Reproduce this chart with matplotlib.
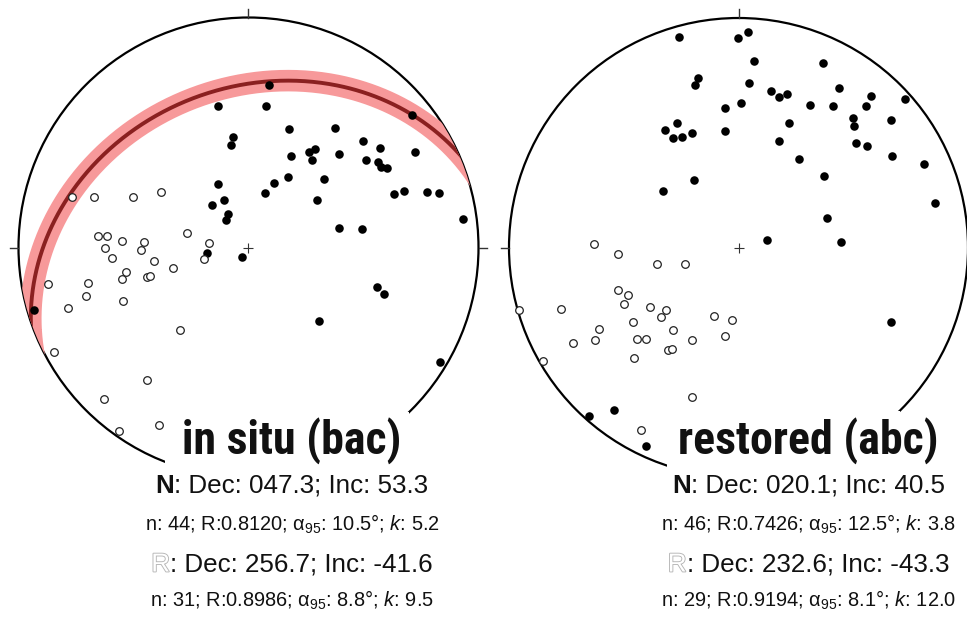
import numpy as np
import matplotlib
matplotlib.use("Agg")
import matplotlib.pyplot as plt
from matplotlib.patches import Circle, Rectangle
import matplotlib.patheffects as pe

# equal-area net coordinates (primitive radius = 1, x = east, y = north)
insitu_normal = [
    (0.090, 0.708), (-0.131, 0.617), (0.075, 0.615), (0.711, 0.576), (0.177, 0.514),
    (0.377, 0.521), (-0.066, 0.480), (-0.075, 0.444), (0.497, 0.462), (0.572, 0.431),
    (0.264, 0.417), (0.290, 0.430), (0.183, 0.399), (0.276, 0.380), (0.392, 0.405),
    (0.724, 0.415), (0.512, 0.380), (0.563, 0.370), (0.577, 0.351), (0.603, 0.344),
    (0.173, 0.307), (0.328, 0.297), (0.111, 0.282), (-0.133, 0.276), (0.073, 0.236),
    (0.634, 0.233), (0.675, 0.246), (0.777, 0.243), (0.830, 0.238), (-0.107, 0.207),
    (0.299, 0.207), (-0.160, 0.183), (-0.090, 0.144), (-0.098, 0.120), (0.931, 0.124),
    (0.393, 0.083), (0.493, 0.079), (-0.182, -0.025), (-0.028, -0.041), (0.560, -0.170),
    (0.588, -0.203), (-0.931, -0.272), (0.308, -0.318), (0.833, -0.498),
]
insitu_reversed = [
    (-0.769, 0.218), (-0.670, 0.218), (-0.503, 0.218), (-0.380, 0.243), (-0.656, 0.051),
    (-0.614, 0.049), (-0.550, 0.030), (-0.453, 0.024), (-0.266, 0.063), (-0.173, 0.021),
    (-0.624, -0.002), (-0.466, -0.010), (-0.592, -0.044), (-0.410, -0.060), (-0.195, -0.051),
    (-0.330, -0.090), (-0.531, -0.105), (-0.550, -0.136), (-0.441, -0.130), (-0.427, -0.125),
    (-0.873, -0.157), (-0.699, -0.156), (-0.708, -0.212), (-0.547, -0.233), (-0.786, -0.265),
    (-0.299, -0.360), (-0.846, -0.456), (-0.443, -0.577), (-0.628, -0.659), (-0.388, -0.772),
    (-0.562, -0.797),
]
restored_normal = [
    (-0.261, 0.919), (-0.002, 0.913), (0.043, 0.938), (0.066, 0.813), (0.369, 0.804),
    (-0.178, 0.740), (-0.191, 0.707), (0.047, 0.715), (0.437, 0.694), (0.143, 0.683),
    (0.175, 0.657), (0.210, 0.670), (0.577, 0.661), (0.724, 0.647), (0.012, 0.630),
    (-0.058, 0.609), (0.310, 0.621), (0.413, 0.618), (0.556, 0.615), (-0.267, 0.542),
    (-0.322, 0.513), (-0.287, 0.477), (-0.247, 0.483), (-0.203, 0.498), (-0.059, 0.508),
    (0.220, 0.542), (0.499, 0.563), (0.502, 0.529), (0.663, 0.554), (0.178, 0.463),
    (0.512, 0.455), (0.561, 0.442), (0.264, 0.386), (0.668, 0.397), (0.810, 0.365),
    (-0.195, 0.294), (-0.329, 0.247), (0.373, 0.310), (0.855, 0.195), (0.384, 0.127),
    (0.123, 0.031), (0.448, 0.023), (0.666, -0.326), (-0.541, -0.709), (-0.653, -0.733),
    (-0.402, -0.864),
]
restored_reversed = [
    (-0.631, 0.014), (-0.524, -0.027), (-0.354, -0.073), (-0.234, -0.072), (-0.525, -0.184),
    (-0.481, -0.207), (-0.498, -0.248), (-0.955, -0.272), (-0.775, -0.270), (-0.384, -0.261),
    (-0.316, -0.272), (-0.339, -0.302), (-0.108, -0.297), (-0.027, -0.316), (-0.609, -0.354),
    (-0.461, -0.326), (-0.284, -0.358), (-0.720, -0.416), (-0.627, -0.403), (-0.442, -0.399),
    (-0.403, -0.400), (-0.203, -0.402), (-0.059, -0.386), (-0.308, -0.447), (-0.288, -0.442),
    (-0.457, -0.480), (-0.851, -0.496), (-0.204, -0.651), (-0.425, -0.795),
]

# small circle shown on the in situ net: axis dec, inc and half-angle (deg)
circle_dec, circle_inc, circle_radius = 158.4, 57.1, 91.5

titles = ["in situ (bac)", "restored (abc)"]
normal_means = [": Dec: 047.3; Inc: 53.3", ": Dec: 020.1; Inc: 40.5"]
normal_stats = ["n: 44; R:0.8120; α$_{95}$: 10.5°; $k$: 5.2",
                "n: 46; R:0.7426; α$_{95}$: 12.5°; $k$: 3.8"]
reversed_means = [": Dec: 256.7; Inc: -41.6", ": Dec: 232.6; Inc: -43.3"]
reversed_stats = ["n: 31; R:0.8986; α$_{95}$: 8.8°; $k$: 9.5",
                  "n: 29; R:0.9194; α$_{95}$: 8.1°; $k$: 12.0"]

W, H = 967, 617

plt.rcParams["font.family"] = ["Liberation Sans", "DejaVu Sans"]
plt.rcParams["mathtext.fontset"] = "custom"
plt.rcParams["mathtext.rm"] = "Liberation Sans"
plt.rcParams["mathtext.it"] = "Liberation Sans:italic"
plt.rcParams["mathtext.bf"] = "Liberation Sans:bold"

fig = plt.figure(figsize=(W / 100, H / 100), dpi=100)


def project(v):
    e, n, d = v
    theta = np.arccos(np.clip(d, -1, 1))
    r = np.sqrt(2) * np.sin(theta / 2)
    h = np.hypot(e, n)
    return r * e / h, r * n / h


def small_circle(dec, inc, psi, num=721):
    dec, inc, psi = np.radians([dec, inc, psi])
    a = np.array([np.cos(inc) * np.sin(dec), np.cos(inc) * np.cos(dec), np.sin(inc)])
    u = np.cross(a, [0, 0, 1.0])
    u /= np.linalg.norm(u)
    w = np.cross(a, u)
    t = np.linspace(0, 2 * np.pi, num)
    v = np.cos(psi) * a[:, None] + np.sin(psi) * (np.outer(u, np.cos(t)) + np.outer(w, np.sin(t)))
    return project(v)


def net(cx, cy, R):
    s = 1.1
    ax = fig.add_axes([(cx - s * R) / W, (H - cy - s * R) / H, 2 * s * R / W, 2 * s * R / H])
    ax.set_xlim(-s, s)
    ax.set_ylim(-s, s)
    ax.axis("off")
    ax.add_patch(Circle((0, 0), 1, fill=False, lw=1.6, ec="black", zorder=2))
    tl = 1 + 8.5 / R
    for dx, dy in [(0, 1), (-1, 0), (1, 0)]:
        ax.plot([dx, dx * tl], [dy, dy * tl], color="#333333", lw=1.0, zorder=2)
    ax.plot(0, 0, marker="+", ms=7, mew=0.8, color="#333333", zorder=3)
    return ax


def draw_points(ax, normal, reverse):
    n = np.array(normal)
    r = np.array(reverse)
    ax.scatter(n[:, 0], n[:, 1], s=38, c="black", lw=0, zorder=5)
    ax.scatter(r[:, 0], r[:, 1], s=30, facecolor="white", edgecolor="#222222", lw=0.9, zorder=5)


ax1 = net(248.5, 247.5, 230)
ax2 = net(738.5, 247.5, 229.5)
draw_points(ax1, insitu_normal, insitu_reversed)
draw_points(ax2, restored_normal, restored_reversed)

# wide pale band and small circle on the in situ net
clip = Circle((0, 0), 1, transform=ax1.transData)
sx, sy = small_circle(circle_dec, circle_inc, circle_radius)
band, = ax1.plot(sx, sy, color="#f7999a", lw=15.5, zorder=3, solid_capstyle="butt")
band.set_clip_path(clip)
line, = ax1.plot(sx, sy, color="#8a2020", lw=2.8, zorder=4, solid_capstyle="butt")
line.set_clip_path(clip)

# white panels behind the labels
for x0, x1, y0 in [(165, 409, 412), (667, 900, 411)]:
    fig.add_artist(Rectangle((x0 / W, 0), (x1 - x0) / W, (H - y0) / H,
                             transform=fig.transFigure, fc="white", ec="none", zorder=1.5))

renderer = fig.canvas.get_renderer()


def two_part(xc, yb, head, rest, size, outlined):
    y = (H - yb) / H
    if outlined:
        t1 = fig.text(0, y, head, fontsize=size, va="baseline", ha="left", color="white",
                      path_effects=[pe.withStroke(linewidth=1.3, foreground="#b5b5b5")], zorder=4)
    else:
        t1 = fig.text(0, y, head, fontsize=size, va="baseline", ha="left", fontweight="bold",
                      color="#111111", zorder=4)
    t2 = fig.text(0, y, rest, fontsize=size, va="baseline", ha="left", color="#111111", zorder=4)
    w1 = t1.get_window_extent(renderer).width
    w2 = t2.get_window_extent(renderer).width
    x0 = xc - (w1 + w2) / 2
    t1.set_x(x0 / W)
    t2.set_x((x0 + w1) / W)


for i, xc in enumerate([292, 808.5]):
    fig.text(xc / W, (H - 454) / H, titles[i], ha="center", va="baseline", fontsize=33,
             fontweight="bold", family="Roboto Condensed", color="#111111", zorder=4)
    two_part(xc, 493, "N", normal_means[i], 18.7, False)
    fig.text(xc / W, (H - 530.5) / H, normal_stats[i], ha="center", va="baseline",
             fontsize=14.4, color="#111111", zorder=4)
    two_part(xc, 571.5, "R", reversed_means[i], 18.7, True)
    fig.text(xc / W, (H - 606.5) / H, reversed_stats[i], ha="center", va="baseline",
             fontsize=14.4, color="#111111", zorder=4)

fig.savefig("out.png", dpi=100)
